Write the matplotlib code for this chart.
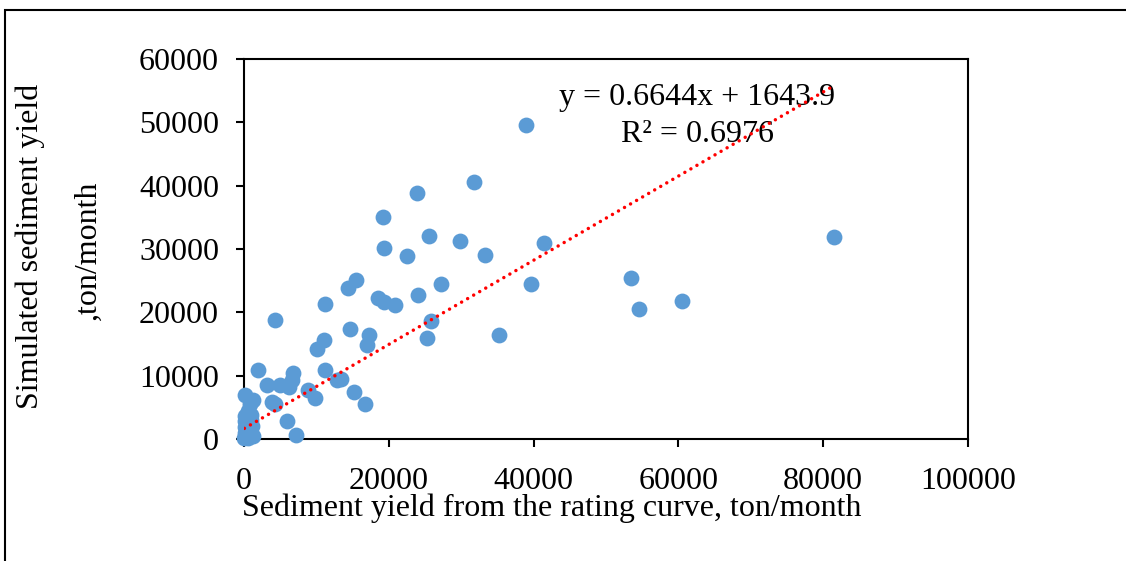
import matplotlib.pyplot as plt
from matplotlib.patches import Rectangle

# observed (rating curve) vs simulated monthly sediment yield, ton/month
rating_yield = [39000, 31700, 23900, 19200, 25600, 29900, 41500, 19300, 33300, 22500,
                15500, 53400, 27200, 39700, 14300, 24000, 18500, 60500, 19400, 11200,
                20900, 54500, 4300, 25800, 14700, 17300, 35200, 25300, 11000, 17000,
                10100, 81500, 2000, 11200, 6800, 6600, 3200, 5000, 6200, 12900,
                13400, 8800, 9800, 15200, 16700, 3900, 4300, 1300, 200, 5900,
                7200, 800, 600, 200, 900, 100, 500, 1100, 300, 700,
                100, 400, 1200, 50, 600, 200, 900]
simulated_yield = [49500, 40500, 38800, 35100, 32000, 31200, 31000, 30100, 29000, 28900,
                   25100, 25400, 24400, 24400, 23900, 22800, 22300, 21800, 21600, 21300,
                   21200, 20600, 18800, 18600, 17400, 16500, 16500, 16000, 15700, 14800,
                   14200, 31900, 10900, 10900, 10400, 9300, 8500, 8500, 8200, 9300,
                   9500, 7700, 6500, 7400, 5500, 5800, 5500, 6200, 7000, 2800,
                   600, 5500, 4500, 3600, 3800, 2800, 2500, 2000, 1600, 1200,
                   900, 500, 400, 100, 200, 1900, 3000]

slope = 0.6644
intercept = 1643.9
r_squared = 0.6976

x_ticks = [0, 20000, 40000, 60000, 80000, 100000]
y_ticks = [0, 10000, 20000, 30000, 40000, 50000, 60000]

plt.rcParams['font.family'] = 'Liberation Serif'

fig = plt.figure(figsize=(11.26, 5.61), dpi=100)
ax = fig.add_axes([244 / 1126, 1 - 439 / 561, 724 / 1126, 380 / 561])

ax.scatter(rating_yield, simulated_yield, s=130, color='#5B9BD5', linewidths=0,
           clip_on=False, zorder=3)

# linear trend line over the data range
x_fit = [min(rating_yield), max(rating_yield)]
y_fit = [slope * v + intercept for v in x_fit]
ax.plot(x_fit, y_fit, color='#FF0000', lw=2.5, linestyle=(0, (0.01, 2.0)),
        dash_capstyle='round', zorder=4)

ax.text(0.626, 0.90, f'y = {slope}x + {intercept}', transform=ax.transAxes,
        ha='center', va='center', fontsize=23)
ax.text(0.626, 0.80, f'R² = {r_squared}', transform=ax.transAxes,
        ha='center', va='center', fontsize=23)

ax.set_xlim(0, 100000)
ax.set_ylim(0, 60000)
ax.set_xticks(x_ticks)
ax.set_yticks(y_ticks)
ax.tick_params(axis='both', labelsize=23, direction='out', length=6, width=1.5)
ax.tick_params(axis='x', pad=14)
ax.tick_params(axis='y', pad=12)
for side in ax.spines.values():
    side.set_linewidth(1.5)
    side.set_color('black')

fig.text(552 / 1126, 1 - 508 / 561, 'Sediment yield from the rating curve, ton/month',
         ha='center', va='center', fontsize=23)
fig.text(30 / 1126, 1 - 246 / 561, 'Simulated sediment yield', rotation=90,
         ha='center', va='center', fontsize=23)
fig.text(88 / 1126, 1 - 250 / 561, ',ton/month', rotation=90,
         ha='center', va='center', fontsize=23)

# outer chart frame
fig.patches.append(Rectangle((5 / 1126, -0.1), 1.2, 1.1 - 10 / 561, transform=fig.transFigure,
                             fill=False, edgecolor='black', lw=1.5))

fig.savefig('out.png', dpi=100)
